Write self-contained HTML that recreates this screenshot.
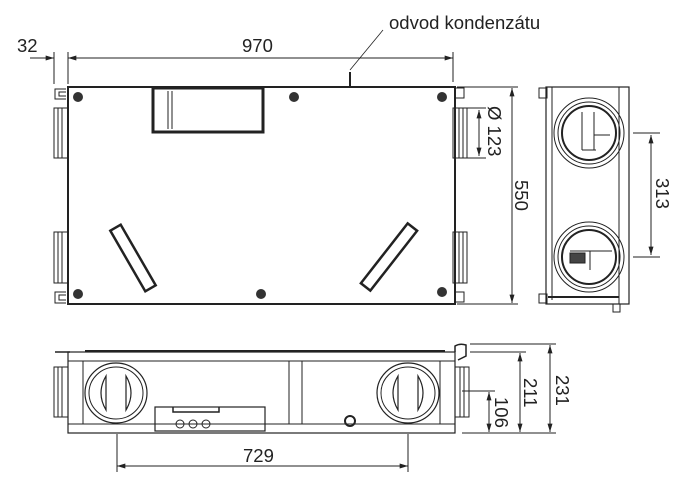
<!DOCTYPE html>
<html><head><meta charset="utf-8"><style>
html,body{margin:0;padding:0;background:#fff;}
svg{display:block;}
text{font-family:"Liberation Sans",sans-serif;font-size:18.5px;fill:#222;}
</style></head><body>
<svg width="692" height="497" viewBox="0 0 692 497" xmlns="http://www.w3.org/2000/svg">
<defs>
<marker id="a" viewBox="0 0 10 6" refX="10" refY="3" markerWidth="9" markerHeight="5" orient="auto-start-reverse"><path d="M0,0 L10,3 L0,6z" fill="#222"/></marker>
</defs>
<g stroke="#222" fill="none" stroke-width="1">
<!-- TOP VIEW -->
<line x1="54" y1="52" x2="54" y2="84"/><line x1="68" y1="52" x2="68" y2="84"/>
<line x1="30" y1="58" x2="54" y2="58" marker-end="url(#a)"/>
<line x1="92" y1="58" x2="68" y2="58" marker-end="url(#a)"/>
<line x1="68" y1="58" x2="453" y2="58" marker-end="url(#a)"/>
<line x1="453" y1="52" x2="453" y2="82"/>
<rect x="68" y="87" width="387" height="217" stroke-width="2"/>
<rect x="153" y="88" width="110" height="44" stroke-width="3"/>
<line x1="172" y1="91" x2="172" y2="129"/><line x1="168" y1="91" x2="168" y2="129"/>
<line x1="350" y1="72" x2="350" y2="87" stroke-width="2"/>
<line x1="383" y1="30" x2="350" y2="70" stroke-width="0.8"/>
<g fill="#333" stroke="none">
<circle cx="78" cy="97" r="5"/><circle cx="294" cy="97" r="5"/><circle cx="442" cy="97" r="5"/>
<circle cx="78" cy="294" r="5"/><circle cx="261" cy="294" r="5"/><circle cx="442" cy="292" r="5"/>
</g>
<g stroke-width="1">
<rect x="54" y="108" width="14" height="50"/><line x1="58" y1="108" x2="58" y2="158"/><line x1="62" y1="108" x2="62" y2="158"/>
<rect x="54" y="232" width="14" height="51"/><line x1="58" y1="232" x2="58" y2="283"/><line x1="62" y1="232" x2="62" y2="283"/>
<rect x="453" y="108" width="14" height="50"/><line x1="459" y1="108" x2="459" y2="158"/><line x1="463" y1="108" x2="463" y2="158"/>
<rect x="453" y="232" width="14" height="51"/><line x1="459" y1="232" x2="459" y2="283"/><line x1="463" y1="232" x2="463" y2="283"/>
<path d="M66,89 H55 V99 H66 M66,92 H59 V96 H66"/>
<path d="M66,292 H55 V303 H66 M66,295 H59 V300 H66"/>
<rect x="455" y="88" width="9" height="10"/><rect x="455" y="292" width="9" height="10"/>
</g>
<rect x="-35" y="-6" width="70" height="12" stroke-width="2.5" transform="translate(133,258) rotate(60)"/>
<rect x="-38" y="-6" width="76" height="12" stroke-width="2.5" transform="translate(389,257) rotate(-52)"/>
<line x1="467" y1="108" x2="486" y2="108"/><line x1="467" y1="158" x2="486" y2="158"/>
<line x1="479" y1="110" x2="479" y2="156" marker-start="url(#a)" marker-end="url(#a)"/>
<line x1="457" y1="87" x2="518" y2="87"/><line x1="457" y1="304" x2="518" y2="304"/>
<line x1="512" y1="88" x2="512" y2="303" marker-start="url(#a)" marker-end="url(#a)"/>
<!-- SIDE VIEW -->
<rect x="546" y="87" width="83" height="217" stroke-width="1.2"/>
<line x1="619" y1="87" x2="619" y2="304"/>
<line x1="552" y1="87" x2="552" y2="300"/>
<rect x="539" y="88" width="8" height="10"/><rect x="539" y="294" width="8" height="9"/>
<line x1="548" y1="297" x2="619" y2="297" stroke-width="2"/>
<rect x="613" y="304" width="7" height="8"/>
<circle cx="589" cy="133" r="35"/><circle cx="589" cy="133" r="31"/><circle cx="589" cy="133" r="27" stroke-width="2"/>
<path d="M582,112 V150 M582,150 H596 M594,112 V150 M594,135 H610"/>
<circle cx="589" cy="257" r="35"/><circle cx="589" cy="257" r="31"/><circle cx="589" cy="257" r="27" stroke-width="2"/>
<path d="M570,251 H590 V270 M590,251 H612" /><rect x="570" y="253" width="15" height="10" fill="#444"/>
<line x1="633" y1="133" x2="660" y2="133"/><line x1="633" y1="257" x2="660" y2="257"/>
<line x1="651" y1="135" x2="651" y2="255" marker-start="url(#a)" marker-end="url(#a)"/>
<!-- BOTTOM VIEW -->
<rect x="68" y="352" width="387" height="81" stroke-width="1.2"/>
<line x1="68" y1="361" x2="455" y2="361"/>
<line x1="68" y1="424" x2="455" y2="424"/>
<line x1="83" y1="361" x2="83" y2="424"/><line x1="440" y1="361" x2="440" y2="424"/>
<path d="M55,352 H70 M455,352 V346 Q460,343 466,345 V356 L458,360" stroke-width="1.5"/>
<line x1="85" y1="351" x2="445" y2="351" stroke-width="2"/>
<rect x="54" y="367" width="14" height="50"/><line x1="58" y1="367" x2="58" y2="417"/><line x1="62" y1="367" x2="62" y2="417"/>
<rect x="455" y="367" width="14" height="50"/><line x1="460" y1="367" x2="460" y2="417"/><line x1="464" y1="367" x2="464" y2="417"/>
<ellipse cx="116" cy="393" rx="31" ry="30" stroke-width="1.2"/><ellipse cx="116" cy="393" rx="27" ry="26"/>
<path d="M106,376 Q96,393 106,410 Z M126,376 Q136,393 126,410 Z" stroke-width="1.2"/>
<ellipse cx="408" cy="393" rx="31" ry="30" stroke-width="1.2"/><ellipse cx="408" cy="393" rx="27" ry="26"/>
<path d="M398,376 Q388,393 398,410 Z M418,376 Q428,393 418,410 Z" stroke-width="1.2"/>
<line x1="289" y1="361" x2="289" y2="424"/><line x1="302" y1="361" x2="302" y2="424"/>
<rect x="155" y="407" width="110" height="24" stroke-width="1.2"/>
<path d="M173,407 V412 H219 V407" stroke-width="1.5"/>
<circle cx="180" cy="424" r="4"/><circle cx="193" cy="424" r="4"/><circle cx="206" cy="424" r="4"/>
<circle cx="350" cy="421" r="5" stroke-width="2"/>
<line x1="117" y1="434" x2="117" y2="472"/><line x1="408" y1="434" x2="408" y2="472"/>
<line x1="117" y1="466" x2="408" y2="466" marker-start="url(#a)" marker-end="url(#a)"/>
<line x1="470" y1="344" x2="556" y2="344"/><line x1="470" y1="352" x2="526" y2="352"/>
<line x1="462" y1="391" x2="495" y2="391"/><line x1="462" y1="433" x2="556" y2="433"/>
<line x1="550" y1="345" x2="550" y2="432" marker-start="url(#a)" marker-end="url(#a)"/>
<line x1="520" y1="353" x2="520" y2="432" marker-start="url(#a)" marker-end="url(#a)"/>
<line x1="489" y1="392" x2="489" y2="432" marker-start="url(#a)" marker-end="url(#a)"/>
</g>
<text x="17" y="52">32</text>
<text x="242" y="52">970</text>
<text x="389" y="29">odvod kondenzátu</text>
<text transform="translate(488,106) rotate(90)">Ø 123</text>
<text transform="translate(515,180) rotate(90)">550</text>
<text transform="translate(656,178) rotate(90)">313</text>
<text x="243" y="462">729</text>
<text transform="translate(556,375) rotate(90)">231</text>
<text transform="translate(524,378) rotate(90)">211</text>
<text transform="translate(495,397) rotate(90)">106</text>
</svg>
</body></html>
